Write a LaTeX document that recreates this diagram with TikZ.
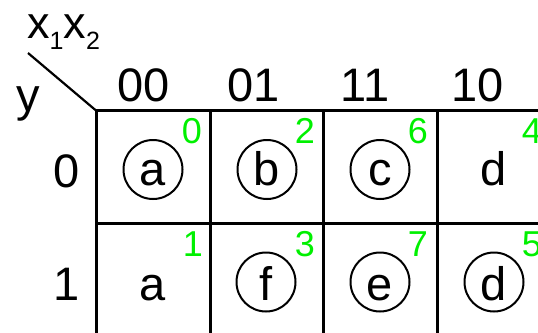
\documentclass[tikz,border=0pt]{standalone}
\usepackage{fontspec}
\setmainfont{Liberation Sans}
\definecolor{kgreen}{RGB}{0,240,0}
\tikzset{
  big/.style={font=\fontsize{47}{47}\selectfont, inner sep=0pt, anchor=base},
  idx/.style={font=\fontsize{36}{36}\selectfont, text=kgreen, inner sep=0pt, anchor=base east},
  ring/.style={circle, draw, line width=2pt, minimum size=59pt, inner sep=0pt},
  gridline/.style={line width=3pt},
  diag/.style={line width=2.2pt}
}
\begin{document}
\begin{tikzpicture}[x=1pt,y=-1pt]
\useasboundingbox (0,0) rectangle (538,332);
\clip (0,0) rectangle (538,332);
% grid corners
\coordinate (corner) at (96,110.5);
\coordinate (diagend) at (28,53);
\coordinate (v1t) at (210,110.5); \coordinate (v1b) at (210,340);
\coordinate (v2t) at (323.5,110.5); \coordinate (v2b) at (323.5,340);
\coordinate (v3t) at (437,110.5); \coordinate (v3b) at (437,340);
\coordinate (v0b) at (96,340);
\coordinate (topr) at (545,110.5);
\coordinate (midl) at (96,223); \coordinate (midr) at (545,223);
\draw[gridline] (v0b) -- (corner) -- (topr);
\draw[gridline] (v1t) -- (v1b);
\draw[gridline] (v2t) -- (v2b);
\draw[gridline] (v3t) -- (v3b);
\draw[gridline] (midl) -- (midr);
\draw[diag] (diagend) -- (corner);
% axis labels
\node[anchor=base west, inner sep=0pt, font=\fontsize{45}{45}\selectfont] (xlab) at (27,38)
  {x\raisebox{-11pt}{\fontsize{25}{25}\selectfont 1}x\raisebox{-11pt}{\fontsize{25}{25}\selectfont 2}};
\node[big] (ylab) at (28,111) {y};
\node[big] (h00) at (144,101) {00};
\node[big] (h01) at (254,101) {01};
\node[big] (h11) at (365,101) {11};
\node[big] (h10) at (478,101) {10};
\node[big] (r0) at (67,187) {0};
\node[big] (r1) at (67,300) {1};
% cell contents
\node[big] (la) at (153,185) {a};
\node[big] (lb) at (267,185) {b};
\node[big] (lc) at (380,185) {c};
\node[big] (ld) at (494,185) {d};
\node[big] (la2) at (153,300) {a};
\node[big] (lf) at (266,300) {f};
\node[big] (le) at (380,300) {e};
\node[big] (ld2) at (494,300) {d};
\node[ring] (ca) at (153,169.5) {};
\node[ring] (cb) at (267,169.5) {};
\node[ring] (cc) at (380,169.5) {};
\node[ring] (cf) at (266,282) {};
\node[ring] (ce) at (380,282) {};
\node[ring] (cd) at (494,282) {};
% minterm indices
\node[idx] (m0) at (202,143) {0};
\node[idx] (m2) at (315,143) {2};
\node[idx] (m6) at (428,143) {6};
\node[idx] (m4) at (542,143) {4};
\node[idx] (m1) at (203,256) {1};
\node[idx] (m3) at (315,256) {3};
\node[idx] (m7) at (428,256) {7};
\node[idx] (m5) at (542,256) {5};
\end{tikzpicture}
\end{document}
